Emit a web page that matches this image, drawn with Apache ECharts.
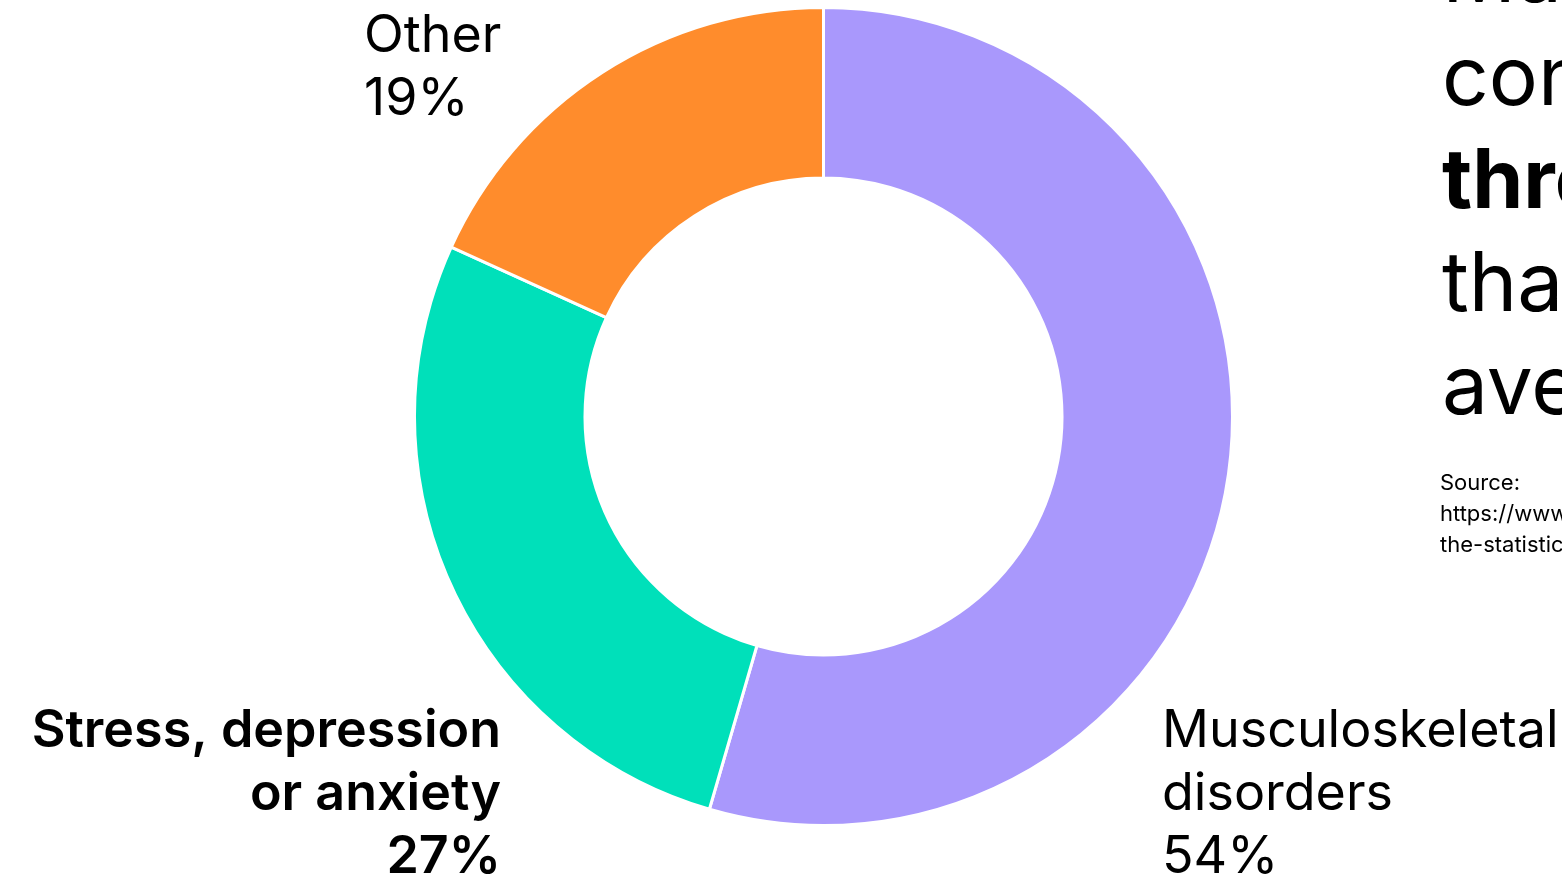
<!DOCTYPE html>
<html>
<head>
<meta charset="utf-8">
<script src="https://cdn.jsdelivr.net/npm/echarts@6/dist/echarts.min.js"></script>
<style>
html,body{margin:0;padding:0;background:#fff;}
#chart{width:1562px;height:882px;}
</style>
</head>
<body>
<div id="chart"></div>
<script>
// Data
const categories = ['Musculoskeletal disorders', 'Stress, depression or anxiety', 'Other'];
const labelLines = [['Musculoskeletal', 'disorders'], ['Stress, depression', 'or anxiety'], ['Other']];
const values = [54.5, 27.3, 18.2];
const percentLabels = ['54%', '27%', '19%'];
const colors = ['#A998FC', '#00E0BA', '#FF8C2C'];
const headlineLines = ['Manual workers', 'construction', 'three times', 'than the', 'average'];
const sourceLines = ['Source:', 'https://www.hse.gov.uk/statistics/', 'the-statistics-explained'];

const chart = echarts.init(document.getElementById('chart'));
const font = 'Inter, "Noto Sans", sans-serif';

const labelPos = [
  { x: 1162, y: 700, align: 'left' },
  { x: 501, y: 700, align: 'right' },
  { x: 364, y: 5, align: 'left' }
];

const option = {
  backgroundColor: '#ffffff',
  animation: false,
  series: [{
    type: 'pie',
    center: [823.5, 416.5],
    radius: [238.5, 409],
    startAngle: 90,
    clockwise: true,
    avoidLabelOverlap: false,
    itemStyle: { borderColor: '#ffffff', borderWidth: 3 },
    labelLine: { show: false },
    label: {
      show: true,
      position: 'outside',
      fontFamily: font,
      fontSize: 52,
      lineHeight: 63,
      color: '#000',
      formatter: function (p) {
        const lines = labelLines[p.dataIndex].concat([percentLabels[p.dataIndex]]);
        const style = p.dataIndex === 1 ? 'b' : 'n';
        return lines.map(l => '{' + style + '|' + l + '}').join('\n');
      },
      rich: {
        n: { fontFamily: font, fontSize: 52, lineHeight: 63, fontWeight: 400, color: '#000' },
        b: { fontFamily: font, fontSize: 52, lineHeight: 63, fontWeight: 600, color: '#000' }
      }
    },
    labelLayout: function (params) {
      const p = labelPos[params.dataIndex];
      return { x: p.x, y: p.y, align: p.align, verticalAlign: 'top', hideOverlap: false };
    },
    data: categories.map((c, i) => ({ name: c, value: values[i], itemStyle: { color: colors[i] } }))
  }],
  graphic: headlineLines.map((t, i) => ({
    type: 'text',
    left: 1442,
    top: -64 + i * 103,
    style: {
      text: t,
      fontFamily: font,
      fontSize: 82,
      fontWeight: i === 2 ? 700 : 400,
      fill: '#000'
    }
  })).concat(sourceLines.map((t, i) => ({
    type: 'text',
    left: 1440,
    top: 472 + i * 31,
    style: { text: t, fontFamily: font, fontSize: 22, fill: '#000' }
  })))
};
chart.setOption(option);
</script>
</body>
</html>
